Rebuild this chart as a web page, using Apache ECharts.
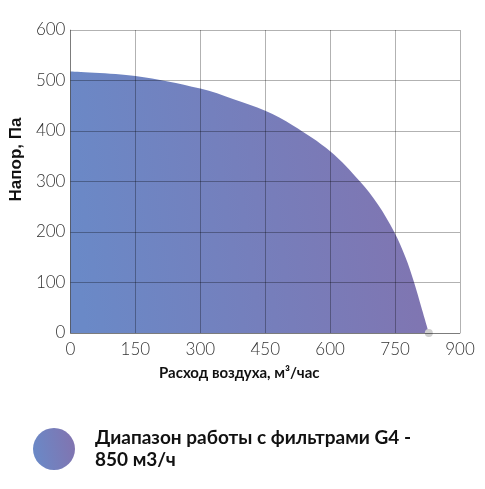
<!DOCTYPE html>
<html>
<head>
<meta charset="utf-8">
<script src="https://cdn.jsdelivr.net/npm/echarts@6/dist/echarts.min.js"></script>
<style>
    html, body { margin: 0; padding: 0; background: #fff; }
    #chart { width: 485px; height: 489px; }
</style>
</head>
<body>
<div id="chart"></div>
<script>
// расход воздуха, м3/час
var airflow = [0, 150, 300, 377, 450, 514, 600, 669, 710, 748, 774, 794, 811, 828];
// напор, Па
var pressure = [518, 509, 484, 463, 440, 411, 360, 300, 255, 200, 150, 100, 50, 0];
var seriesName = 'Диапазон работы с фильтрами G4 - 850 м3/ч';
var xTicks = [0, 150, 300, 450, 600, 750, 900];
var yTicks = [0, 100, 200, 300, 400, 500, 600];

function fill() {
    return new echarts.graphic.LinearGradient(0, 0.6, 1, 0.4, [
        {offset: 0, color: '#6a89c7'},
        {offset: 1, color: '#8174b0'}
    ]);
}

var data = [];
for (var i = 0; i < airflow.length; i++) {
    var item = {value: [airflow[i], pressure[i]]};
    if (i == airflow.length - 1) {
        item.symbol = 'circle';
        item.symbolSize = 8;
        item.itemStyle = {color: '#cfcfcf'};
    }
    data.push(item);
}

var myChart = echarts.init(document.getElementById('chart'));
option = {
    backgroundColor: '#ffffff',
    animation: false,
    grid: {left: 64, right: 25, top: 30, bottom: 156},
    legend: {
        left: 33,
        top: 427,
        padding: 0,
        itemWidth: 42,
        itemHeight: 42,
        icon: 'circle',
        data: [{name: seriesName, itemStyle: {color: fill()}}],
        formatter: function (name) {
            return name.replace('- ', '-\n');
        },
        textStyle: {
            fontFamily: 'Lato',
            fontWeight: 'bold',
            fontSize: 19,
            lineHeight: 22,
            color: '#111',
            padding: [0, 0, 0, 15]
        }
    },
    xAxis: {
        type: 'value',
        min: xTicks[0],
        max: xTicks[xTicks.length - 1],
        interval: 150,
        z: 5,
        name: 'Расход воздуха, м³/час',
        nameLocation: 'middle',
        nameGap: 33,
        nameTextStyle: {
            fontFamily: 'Lato',
            fontWeight: 'bold',
            fontSize: 15,
            color: '#111',
            padding: [0, 52, 0, 0]
        },
        axisLine: {show: true, lineStyle: {color: 'rgba(0,0,0,0.3)', width: 1}},
        axisTick: {show: false},
        splitLine: {show: true, lineStyle: {color: 'rgba(0,0,0,0.3)', width: 1}},
        axisLabel: {
            margin: 8,
            fontFamily: 'Lato',
            fontWeight: 300,
            fontSize: 17,
            color: '#333'
        }
    },
    yAxis: {
        type: 'value',
        min: yTicks[0],
        max: yTicks[yTicks.length - 1],
        interval: 100,
        z: 5,
        name: 'Напор, Па',
        nameLocation: 'middle',
        nameGap: 44,
        nameTextStyle: {
            fontFamily: 'Liberation Sans',
            fontWeight: 'bold',
            fontSize: 17,
            color: '#111',
            padding: [0, 0, 0, 44]
        },
        axisLine: {show: true, lineStyle: {color: 'rgba(0,0,0,0.3)', width: 1}},
        axisTick: {show: false},
        splitLine: {show: true, lineStyle: {color: 'rgba(0,0,0,0.3)', width: 1}},
        axisLabel: {
            margin: 5,
            fontFamily: 'Lato',
            fontWeight: 300,
            fontSize: 17,
            color: '#333'
        }
    },
    series: [
        {
            name: seriesName,
            type: 'line',
            smooth: 0.35,
            symbol: 'none',
            z: 2,
            data: data,
            lineStyle: {width: 0},
            itemStyle: {color: '#7a7fbc'},
            areaStyle: {color: fill(), opacity: 1}
        }
    ]
};
myChart.setOption(option);
</script>
</body>
</html>
